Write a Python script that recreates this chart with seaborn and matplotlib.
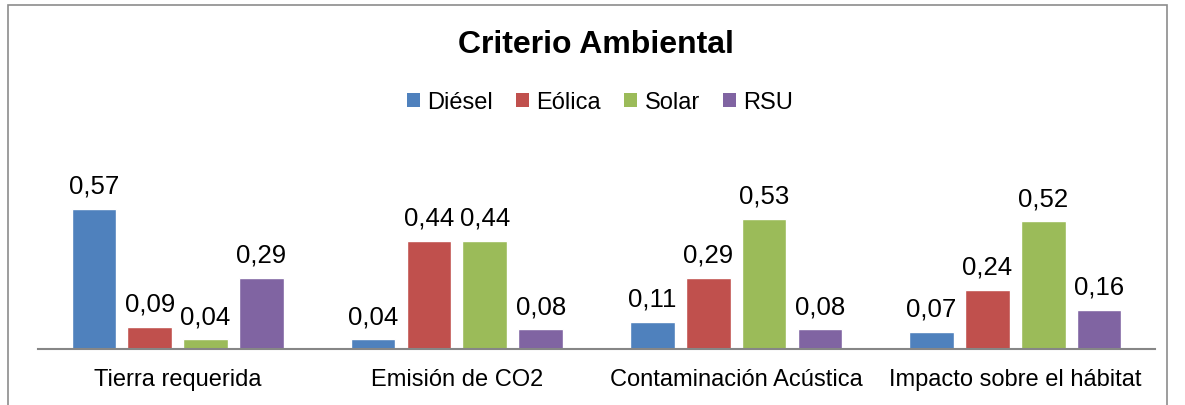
import pandas as pd
import numpy as np
import matplotlib.pyplot as plt
import seaborn as sns
from matplotlib.patches import Patch, Rectangle

categorias = ['Tierra requerida', 'Emisión de CO2', 'Contaminación Acústica', 'Impacto sobre el hábitat']
tecnologias = ['Diésel', 'Eólica', 'Solar', 'RSU']
diesel = [0.57, 0.04, 0.11, 0.07]
eolica = [0.09, 0.44, 0.29, 0.24]
solar = [0.04, 0.44, 0.53, 0.52]
rsu = [0.29, 0.08, 0.08, 0.16]
colores = ['#4F81BD', '#C0504D', '#9BBB59', '#8064A2']

sns.set_theme(style='white')
plt.rcParams['font.family'] = ['Liberation Sans', 'DejaVu Sans']
plt.rcParams['text.color'] = 'black'
plt.rcParams['xtick.color'] = 'black'
plt.rcParams['xtick.labelcolor'] = 'black'

# long format for seaborn
df = pd.DataFrame({
    'criterio': categorias * 4,
    'tecnologia': np.repeat(tecnologias, 4),
    'valor': diesel + eolica + solar + rsu,
})

fig = plt.figure(figsize=(11.85, 4.06), dpi=100)
ax = fig.add_axes([38/1185, 1-350/406, 1117/1185, 0.363])

sns.barplot(data=df, x='criterio', y='valor', hue='tecnologia', order=categorias,
            hue_order=tecnologias, palette=colores, saturation=1, width=0.8, gap=0.2,
            ax=ax, legend=False, err_kws={'linewidth': 0})

for c in ax.containers:
    ax.bar_label(c, fmt=lambda v: f'{v:.2f}'.replace('.', ','), padding=8, fontsize=18.5,
                 color='black')

ax.set_ylim(0, 0.6)
ax.set_xlim(-0.5, 3.5)
ax.set_xlabel('')
ax.set_ylabel('')
ax.set_yticks([])
ax.tick_params(axis='x', length=0, labelsize=17, pad=14, labelcolor='black')
for s in ['top', 'right', 'left']:
    ax.spines[s].set_visible(False)
ax.spines['bottom'].set_color('#868686')
ax.spines['bottom'].set_linewidth(1.5)

fig.text(596/1185, 1-45/406, 'Criterio Ambiental', ha='center', va='center',
         fontsize=23, fontweight='bold', color='black')

handles = [Patch(facecolor=col, edgecolor='none') for col in colores]
fig.legend(handles, tecnologias, loc='center', bbox_to_anchor=(600/1185, 1-103/406),
           ncol=4, frameon=False, fontsize=17, handlelength=0.55, handleheight=0.55,
           handletextpad=0.3, columnspacing=1.0, labelcolor='black')

# chart border like the office export
fig.patches.append(Rectangle((8/1185, -0.1), 1159/1185, 1.1 - 6/406, transform=fig.transFigure,
                             fill=False, edgecolor='#8C8C8C', linewidth=1.2))

fig.savefig('out.png', dpi=100)
